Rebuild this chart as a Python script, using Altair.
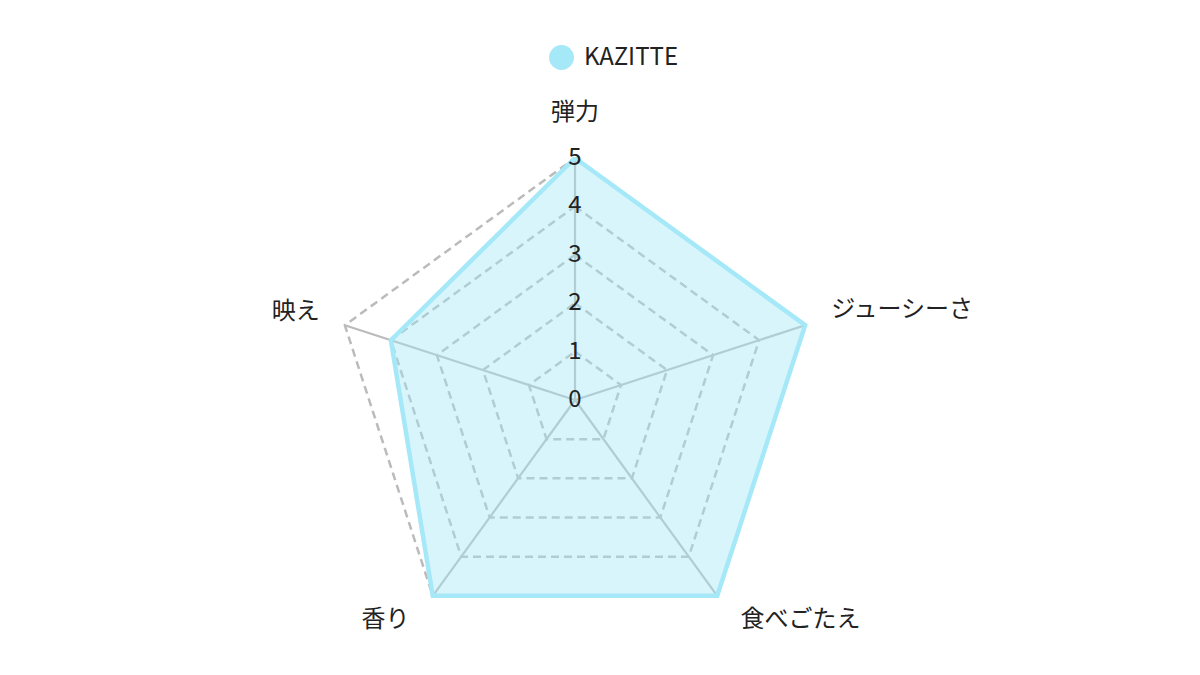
import altair as alt
import pandas as pd

categories = ["弾力", "ジューシーさ", "食べごたえ", "香り", "映え"]
values = [5, 5, 5, 5, 4]
series_name = "KAZITTE"
grid_levels = [1, 2, 3, 4, 5]
tick_values = [0, 1, 2, 3, 4, 5]
max_value = 5

N = len(categories)
W, H = 1184, 659
UNIT = 48.4
CX, CY = 567, 392
xs = alt.Scale(domain=[-CX / UNIT, (W - CX) / UNIT], nice=False, zero=False)
ys = alt.Scale(domain=[-(H - CY) / UNIT, CY / UNIT], nice=False, zero=False)

FONT = "Noto Sans CJK JP"
LINE = "#a5e8f8"
GRID = "#bbbbbb"

# data tables built from the arrays
poly = pd.DataFrame({
    "idx": list(range(N + 1)),
    "category": [categories[i % N] for i in range(N + 1)],
    "value": [values[i % N] for i in range(N + 1)],
    "series": [series_name] * (N + 1),
})
rings = pd.DataFrame([
    {"level": lv, "idx": i} for lv in grid_levels for i in range(N + 1)
])
spokes = pd.DataFrame({"idx": list(range(N)), "level": [max_value] * N})
ticks = pd.DataFrame({"t": tick_values})
labels = pd.DataFrame({"idx": list(range(N)), "category": categories})


def with_polar(chart, r):
    c = chart.transform_calculate(theta="datum.idx * 2 * PI / %d" % N)
    c = c.transform_calculate(px="(%s) * sin(datum.theta)" % r,
                              py="(%s) * cos(datum.theta)" % r)
    return c


X = alt.X("px:Q", scale=xs, axis=None)
Y = alt.Y("py:Q", scale=ys, axis=None)

ring_layer = with_polar(alt.Chart(rings), "datum.level").mark_line(
    stroke=GRID, strokeWidth=2.5, strokeDash=[8, 5]
).encode(x=X, y=Y, detail="level:N", order="idx:Q")

spoke_layer = with_polar(alt.Chart(spokes), "datum.level").transform_calculate(
    ox="0", oy="0"
).mark_rule(stroke=GRID, strokeWidth=2.2).encode(
    x=alt.X("ox:Q", scale=xs, axis=None),
    y=alt.Y("oy:Q", scale=ys, axis=None),
    x2="px:Q", y2="py:Q",
)

poly_layer = with_polar(alt.Chart(poly), "datum.value").mark_line(
    filled=True, stroke=LINE, strokeWidth=4.5, fillOpacity=0.42,
    strokeJoin="miter",
).encode(
    x=X, y=Y, order="idx:Q",
    color=alt.Color(
        "series:N",
        scale=alt.Scale(range=[LINE]),
        legend=alt.Legend(
            title=None, orient="none", legendX=541, legendY=37,
            symbolType="circle", symbolSize=620, symbolOpacity=1,
            symbolStrokeWidth=0, symbolFillColor=LINE,
            labelFont=FONT, labelFontSize=24, labelColor="#222222",
            labelOffset=10,
        ),
    ),
)

tick_layer = alt.Chart(ticks).transform_calculate(ox="0").mark_text(
    font=FONT, fontSize=24, color="#222222", align="center", baseline="middle"
).encode(
    x=alt.X("ox:Q", scale=xs, axis=None),
    y=alt.Y("t:Q", scale=ys, axis=None),
    text="t:Q",
)

EXT = 5.5


def label_layer(filter_expr, align, dx, dy):
    return with_polar(alt.Chart(labels), str(EXT)).transform_filter(filter_expr).mark_text(
        font=FONT, fontSize=24, color="#222222", align=align, baseline="middle",
        dx=dx, dy=dy,
    ).encode(x=X, y=Y, text="category:N")


lab_top = label_layer("datum.idx == 0", "center", 0, -21)
lab_ru = label_layer("datum.idx == 1", "left", 3, -8)
lab_rl = label_layer("datum.idx == 2", "left", 9, 5)
lab_ll = label_layer("datum.idx == 3", "right", -9, 5)
lab_lu = label_layer("datum.idx == 4", "right", -2, -6)

chart = alt.layer(
    ring_layer, spoke_layer, poly_layer, tick_layer,
    lab_top, lab_ru, lab_rl, lab_ll, lab_lu,
).properties(width=W, height=H, padding=0).configure_view(stroke=None)

chart.save("out.html", embed_options={"renderer": "svg", "actions": False})
